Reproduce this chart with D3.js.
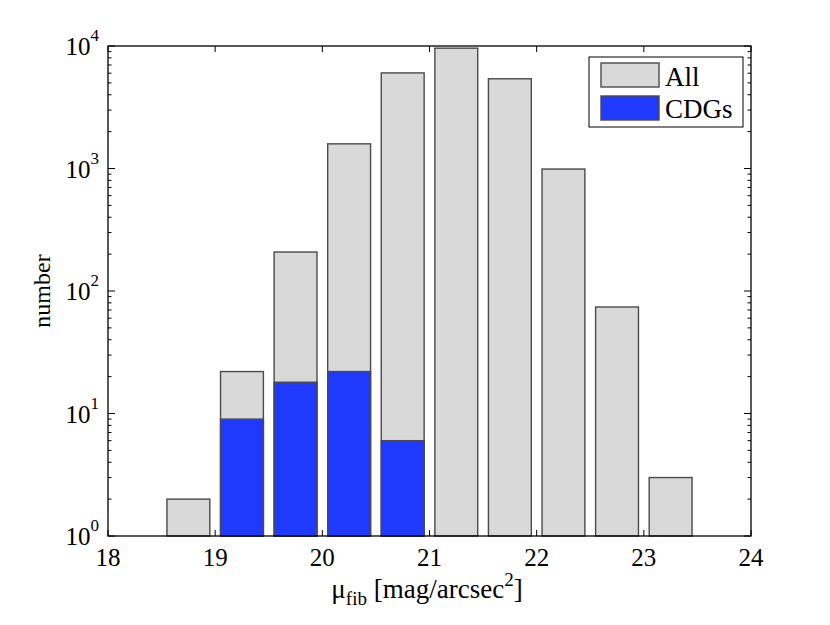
<!DOCTYPE html>
<html>
<head>
<meta charset="utf-8">
<script src="https://cdn.jsdelivr.net/npm/d3@7"></script>
<style>
  body { margin: 0; background: #fff; }
  svg text { font-family: "Liberation Serif", "Times New Roman", serif; fill: #000; }
</style>
</head>
<body>
<svg id="chart" width="830" height="625"></svg>
<script>
// bin centres and counts
const binCenters = [18.75, 19.25, 19.75, 20.25, 20.75, 21.25, 21.75, 22.25, 22.75, 23.25];
const allCounts  = [2, 22, 208, 1590, 6030, 9600, 5400, 990, 74, 3];
const cdgCounts  = [0, 9, 18, 22, 6, 0, 0, 0, 0, 0];
const xTicks = [18, 19, 20, 21, 22, 23, 24];
const yTicks = [1, 10, 100, 1000, 10000];
const seriesNames = ["All", "CDGs"];
const seriesColors = ["#d9d9d9", "#2039ff"];

const svg = d3.select("#chart");
const pLeft = 108, pRight = 751, pTop = 46, pBottom = 536;
const barWidth = 0.4;

let x = d3.scaleLinear().domain([18, 24]).range([pLeft, pRight]);
let y = d3.scaleLog().domain([1, 10000]).range([pBottom, pTop]);

// minor ticks for the log axis (2..9 in each decade)
let minor = [];
for (let d = 1; d < 10000; d *= 10) {
    for (let k = 2; k < 10; k++) minor.push(d * k);
}

/* bars: grey for all, blue for CDGs on top */
function drawBars(counts, color) {
    svg.append("g").selectAll("rect")
        .data(binCenters.map((c, i) => ({c: c, v: counts[i]})).filter(d => d.v > 0))
        .enter().append("rect")
            .attr("x", d => x(d.c - barWidth / 2))
            .attr("width", d => x(d.c + barWidth / 2) - x(d.c - barWidth / 2))
            .attr("y", d => y(d.v))
            .attr("height", d => pBottom - y(d.v))
            .attr("fill", color)
            .attr("stroke", "#4a4a4a")
            .attr("stroke-width", 1.4);
}
drawBars(allCounts, seriesColors[0]);
drawBars(cdgCounts, seriesColors[1]);

// axes: ticks point inward on all four sides
let axes = svg.append("g").attr("stroke", "#000").attr("stroke-width", 1);
xTicks.forEach(t => {
    axes.append("line").attr("x1", x(t)).attr("x2", x(t)).attr("y1", pBottom).attr("y2", pBottom - 6);
    axes.append("line").attr("x1", x(t)).attr("x2", x(t)).attr("y1", pTop).attr("y2", pTop + 6);
});
yTicks.forEach(t => {
    axes.append("line").attr("x1", pLeft).attr("x2", pLeft + 7).attr("y1", y(t)).attr("y2", y(t));
    axes.append("line").attr("x1", pRight).attr("x2", pRight - 7).attr("y1", y(t)).attr("y2", y(t));
});
minor.forEach(t => {
    axes.append("line").attr("x1", pLeft).attr("x2", pLeft + 3.5).attr("y1", y(t)).attr("y2", y(t));
    axes.append("line").attr("x1", pRight).attr("x2", pRight - 3.5).attr("y1", y(t)).attr("y2", y(t));
});
svg.append("rect")
    .attr("x", pLeft).attr("y", pTop)
    .attr("width", pRight - pLeft).attr("height", pBottom - pTop)
    .attr("fill", "none").attr("stroke", "#000").attr("stroke-width", 1.3);

// tick labels
svg.append("g").selectAll("text")
    .data(xTicks).enter().append("text")
        .attr("x", d => x(d))
        .attr("y", pBottom + 30)
        .attr("text-anchor", "middle")
        .style("font-size", "25px")
        .text(d => d);

let yl = svg.append("g").selectAll("text")
    .data(yTicks).enter().append("text")
        .attr("x", pLeft - 9)
        .attr("y", d => y(d) + 9)
        .attr("text-anchor", "end")
        .style("font-size", "25px");
yl.append("tspan").text("10");
yl.append("tspan")
    .style("font-size", "17px")
    .attr("dy", -14)
    .text(d => Math.round(Math.log10(d)));

// axis titles
let xt = svg.append("text")
    .attr("x", 427).attr("y", 598)
    .attr("text-anchor", "middle")
    .style("font-size", "27px");
xt.append("tspan").text("μ");
xt.append("tspan").style("font-size", "19px").attr("dy", 7).text("fib");
xt.append("tspan").attr("dy", -7).text(" [mag/arcsec");
xt.append("tspan").style("font-size", "19px").attr("dy", -12).text("2");
xt.append("tspan").attr("dy", 12).text("]");

svg.append("text")
    .attr("transform", "translate(50," + ((pTop + pBottom) / 2) + ") rotate(-90)")
    .attr("text-anchor", "middle")
    .style("font-size", "24px")
    .text("number");

// legend
let lg = svg.append("g");
lg.append("rect")
    .attr("x", 589).attr("y", 57).attr("width", 154).attr("height", 70)
    .attr("fill", "#fff").attr("stroke", "#000").attr("stroke-width", 1);
seriesNames.forEach((name, i) => {
    lg.append("rect")
        .attr("x", 601).attr("y", 63 + i * 33).attr("width", 58).attr("height", 24)
        .attr("fill", seriesColors[i]).attr("stroke", "#4a4a4a").attr("stroke-width", 1.4);
    lg.append("text")
        .attr("x", 665).attr("y", 86 + i * 32)
        .style("font-size", "27px")
        .text(name);
});
</script>
</body>
</html>
